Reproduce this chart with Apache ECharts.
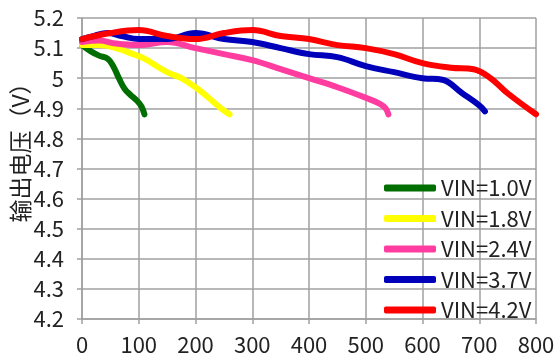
<!DOCTYPE html>
<html><head><meta charset="utf-8">
<script src="https://cdn.jsdelivr.net/npm/echarts@6/dist/echarts.min.js"></script>
<style>html,body{margin:0;padding:0;background:#fff}#c{width:556px;height:359px}</style>
</head><body><div id="c"></div>
<script>
var seriesNames = ['VIN=1.0V','VIN=1.8V','VIN=2.4V','VIN=3.7V','VIN=4.2V'];
var seriesColors = ['#006e00','#ffff00','#ff3ca0','#0000bb','#ff0000'];
var vin10 = [[0,5.11],[15,5.09],[30,5.075],[45,5.065],[55,5.04],[65,5.0],[75,4.965],[85,4.945],[97,4.925],[105,4.905],[110,4.88]];
var vin18 = [[0,5.11],[30,5.11],[60,5.1],[90,5.08],[110,5.065],[150,5.02],[175,5.0],[200,4.97],[220,4.94],[245,4.9],[260,4.88]];
var vin24 = [[0,5.12],[30,5.125],[60,5.115],[100,5.11],[150,5.12],[200,5.1],[250,5.08],[300,5.06],[350,5.03],[400,5.0],[450,4.97],[500,4.935],[525,4.915],[535,4.9],[540,4.88]];
var vin37 = [[0,5.13],[20,5.14],[45,5.15],[70,5.14],[100,5.13],[150,5.13],[200,5.15],[250,5.13],[300,5.12],[350,5.1],[400,5.08],[450,5.07],[500,5.04],[550,5.02],[600,5.0],[635,4.995],[670,4.95],[700,4.91],[710,4.89]];
var vin42 = [[0,5.13],[50,5.15],[100,5.16],[150,5.14],[200,5.13],[250,5.15],[300,5.16],[350,5.14],[400,5.13],[450,5.11],[500,5.1],[550,5.08],[600,5.05],[650,5.035],[690,5.03],[720,5.0],[750,4.95],[800,4.88]];
var allData = [vin10, vin18, vin24, vin37, vin42];
var yAxisName = '输出电压（V）';
var font = '"Noto Sans CJK SC","Noto Sans",sans-serif';
var gridColor = '#a0a0a0';
var chart = echarts.init(document.getElementById('c'));
chart.setOption({
  animation: false,
  grid: {left: 82, right: 20, top: 18, bottom: 40, outerBoundsMode: 'none', containLabel: false},
  legend: {
    orient: 'vertical', left: 379, top: 172, itemWidth: 52, itemHeight: 7, itemGap: 8.5,
    icon: 'roundRect',
    textStyle: {fontFamily: font, fontSize: 22, color: '#222', lineHeight: 22},
    data: seriesNames
  },
  graphic: [{
    type: 'text', x: 20, y: 147, rotation: Math.PI / 2,
    style: {text: yAxisName, fontFamily: font, fontSize: 23, fill: '#222', align: 'center', verticalAlign: 'middle'}
  }],
  xAxis: {
    type: 'value', min: 0, max: 800, interval: 100,
    axisLine: {show: true, lineStyle: {color: gridColor, width: 1.5}},
    axisTick: {show: true, length: 5, lineStyle: {color: gridColor, width: 1.5}},
    splitLine: {show: true, lineStyle: {color: gridColor, width: 1.5}},
    axisLabel: {fontFamily: font, fontSize: 22, color: '#222', margin: 15}
  },
  yAxis: {
    type: 'value', min: 4.2, max: 5.2, interval: 0.1,
    axisLine: {show: true, lineStyle: {color: gridColor, width: 1.5}},
    axisTick: {show: true, length: 5, lineStyle: {color: gridColor, width: 1.5}},
    splitLine: {show: true, lineStyle: {color: gridColor, width: 1.5}},
    axisLabel: {fontFamily: font, fontSize: 22, color: '#222', margin: 18,
      formatter: function(v){ return String(Math.round(v*10)/10); }}
  },
  series: allData.map(function(d, i){
    return {
      name: seriesNames[i], type: 'line', data: d, smooth: 0.4, showSymbol: false,
      color: seriesColors[i],
      lineStyle: {width: 6, color: seriesColors[i], cap: 'round', join: 'round'}
    };
  })
});
</script></body></html>
